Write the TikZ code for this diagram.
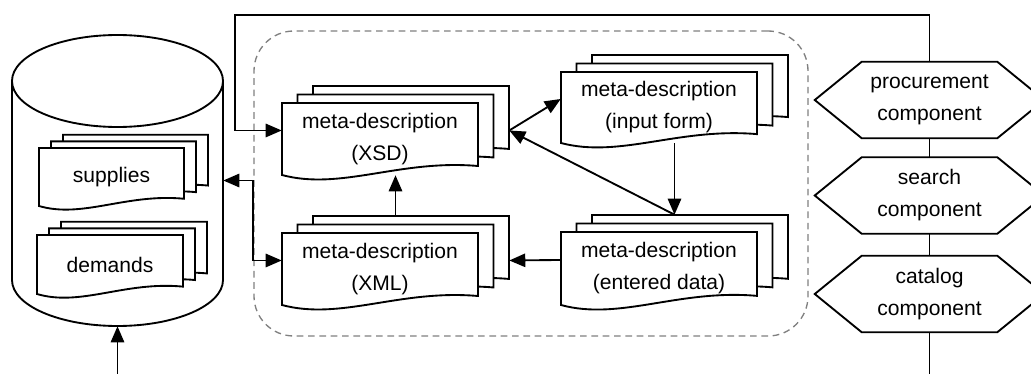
\documentclass[tikz,border=0pt]{standalone}
\usepackage{fontspec}
\setmainfont{Liberation Sans}
\usetikzlibrary{arrows.meta, calc, fit}

\tikzset{
  page/.style={draw, fill=white, line width=1.4pt},
  hexline/.style={draw, line width=1.4pt},
  doctext/.style={align=center, inner sep=0pt, font=\fontsize{15.8}{24}\selectfont},
  comp/.style={minimum width=101.25pt, minimum height=57pt, inner sep=0pt, align=center, font=\fontsize{15.8}{24}\selectfont},
  link/.style={line width=1.4pt, -{Triangle[length=12pt, width=10pt]}},
  biglink/.style={line width=1.4pt, {Triangle[length=12pt, width=10pt]}-{Triangle[length=12pt, width=10pt]}},
}

% stack of three pages: name, x, y (front top left), width, height, offset, text
\newcommand{\docstack}[7]{%
  \foreach \k in {2,1,0} {
    \begin{scope}[shift={({#2+\k*#6},{#3-0.55*\k*#6})}]
      \draw[page] (0,0) -- (#4,0) -- (#4,{0.875*#5})
        .. controls ({0.6*#4},{0.78*#5}) and ({0.3*#4},{1.22*#5}) .. (0,#5) -- cycle;
    \end{scope}
  }
  \node (#1) [fit={(#2,{#3+#5}) ({#2+#4+2*#6},{#3-1.1*#6})}, inner sep=0pt] {};
  \node (#1-text) [doctext] at ({#2+#4/2},{#3+#5/2}) {#7};
}

\begin{document}
\begin{tikzpicture}[x=0.75pt, y=-0.75pt]
  \clip (0,0) rectangle (1031,374);

  % meta-description editor
  \node (metabox) [draw=gray, line width=1pt, dash pattern=on 5pt off 3.5pt, rounded corners=30pt,
    fit={(254,31) (808,336)}, inner sep=0pt] {};

  % database
  \node (db) [fit={(12,35) (223,326)}, inner sep=0pt] {};
  \draw[line width=1.4pt] (12,81) -- (12,280)
    arc[start angle=180, end angle=360, x radius=79.125pt, y radius=34.5pt] -- (223,81);
  \draw[line width=1.4pt] (117.5,81) ellipse [x radius=79.125pt, y radius=34.5pt];
  \docstack{supplies}{39}{148}{145}{58}{12}{supplies}
  \docstack{demands}{37}{235}{146}{59}{12}{demands}

  % meta-descriptions
  \docstack{xsd}{282}{103}{196}{72}{15.5}{meta-description\\(XSD)}
  \docstack{xml}{282}{233}{196}{72}{15.5}{meta-description\\(XML)}
  \docstack{inputform}{561}{72}{196}{71}{15.5}{meta-description\\(input form)}
  \docstack{entered}{561}{232}{196}{73}{15.5}{meta-description\\(entered data)}

  % components
  \node (procurement) [comp] at (929.5,100) {procurement\\component};
  \node (search) [comp] at (929.5,195.5) {search\\component};
  \node (catalog) [comp] at (929.5,294) {catalog\\component};
  \foreach \n in {procurement,search,catalog}
    \draw[hexline] (\n.north west) -- ($(\n.west)+(-47,0)$) -- (\n.south west)
      -- (\n.south east) -- ($(\n.east)+(47,0)$) -- (\n.north east) -- cycle;

  \coordinate (loopcorner) at (235,15);
  \coordinate (compin) at (929.5,374);
  \coordinate (dbin) at (117.5,374);

  % connectors
  \draw[line width=1.4pt] (compin) -- (catalog.south);
  \draw[line width=1.4pt] (catalog.north) -- (search.south);
  \draw[line width=1.4pt] (search.north) -- (procurement.south);
  \draw[link] (procurement.north) |- (loopcorner) |- (xsd.west);
  \draw[biglink] (db.east) -- ++(30,0) |- (xml.west);
  \draw[link] (xml.north) -- (xsd.south);
  \draw[link] (xsd.east) -- (inputform.west);
  \draw[link] (inputform.south) -- (entered.north);
  \draw[link] (entered.north) -- (xsd.east);
  \draw[link] (entered.west) -- (xml.east);
  \draw[link] (dbin) -- (db.south);
\end{tikzpicture}
\end{document}
